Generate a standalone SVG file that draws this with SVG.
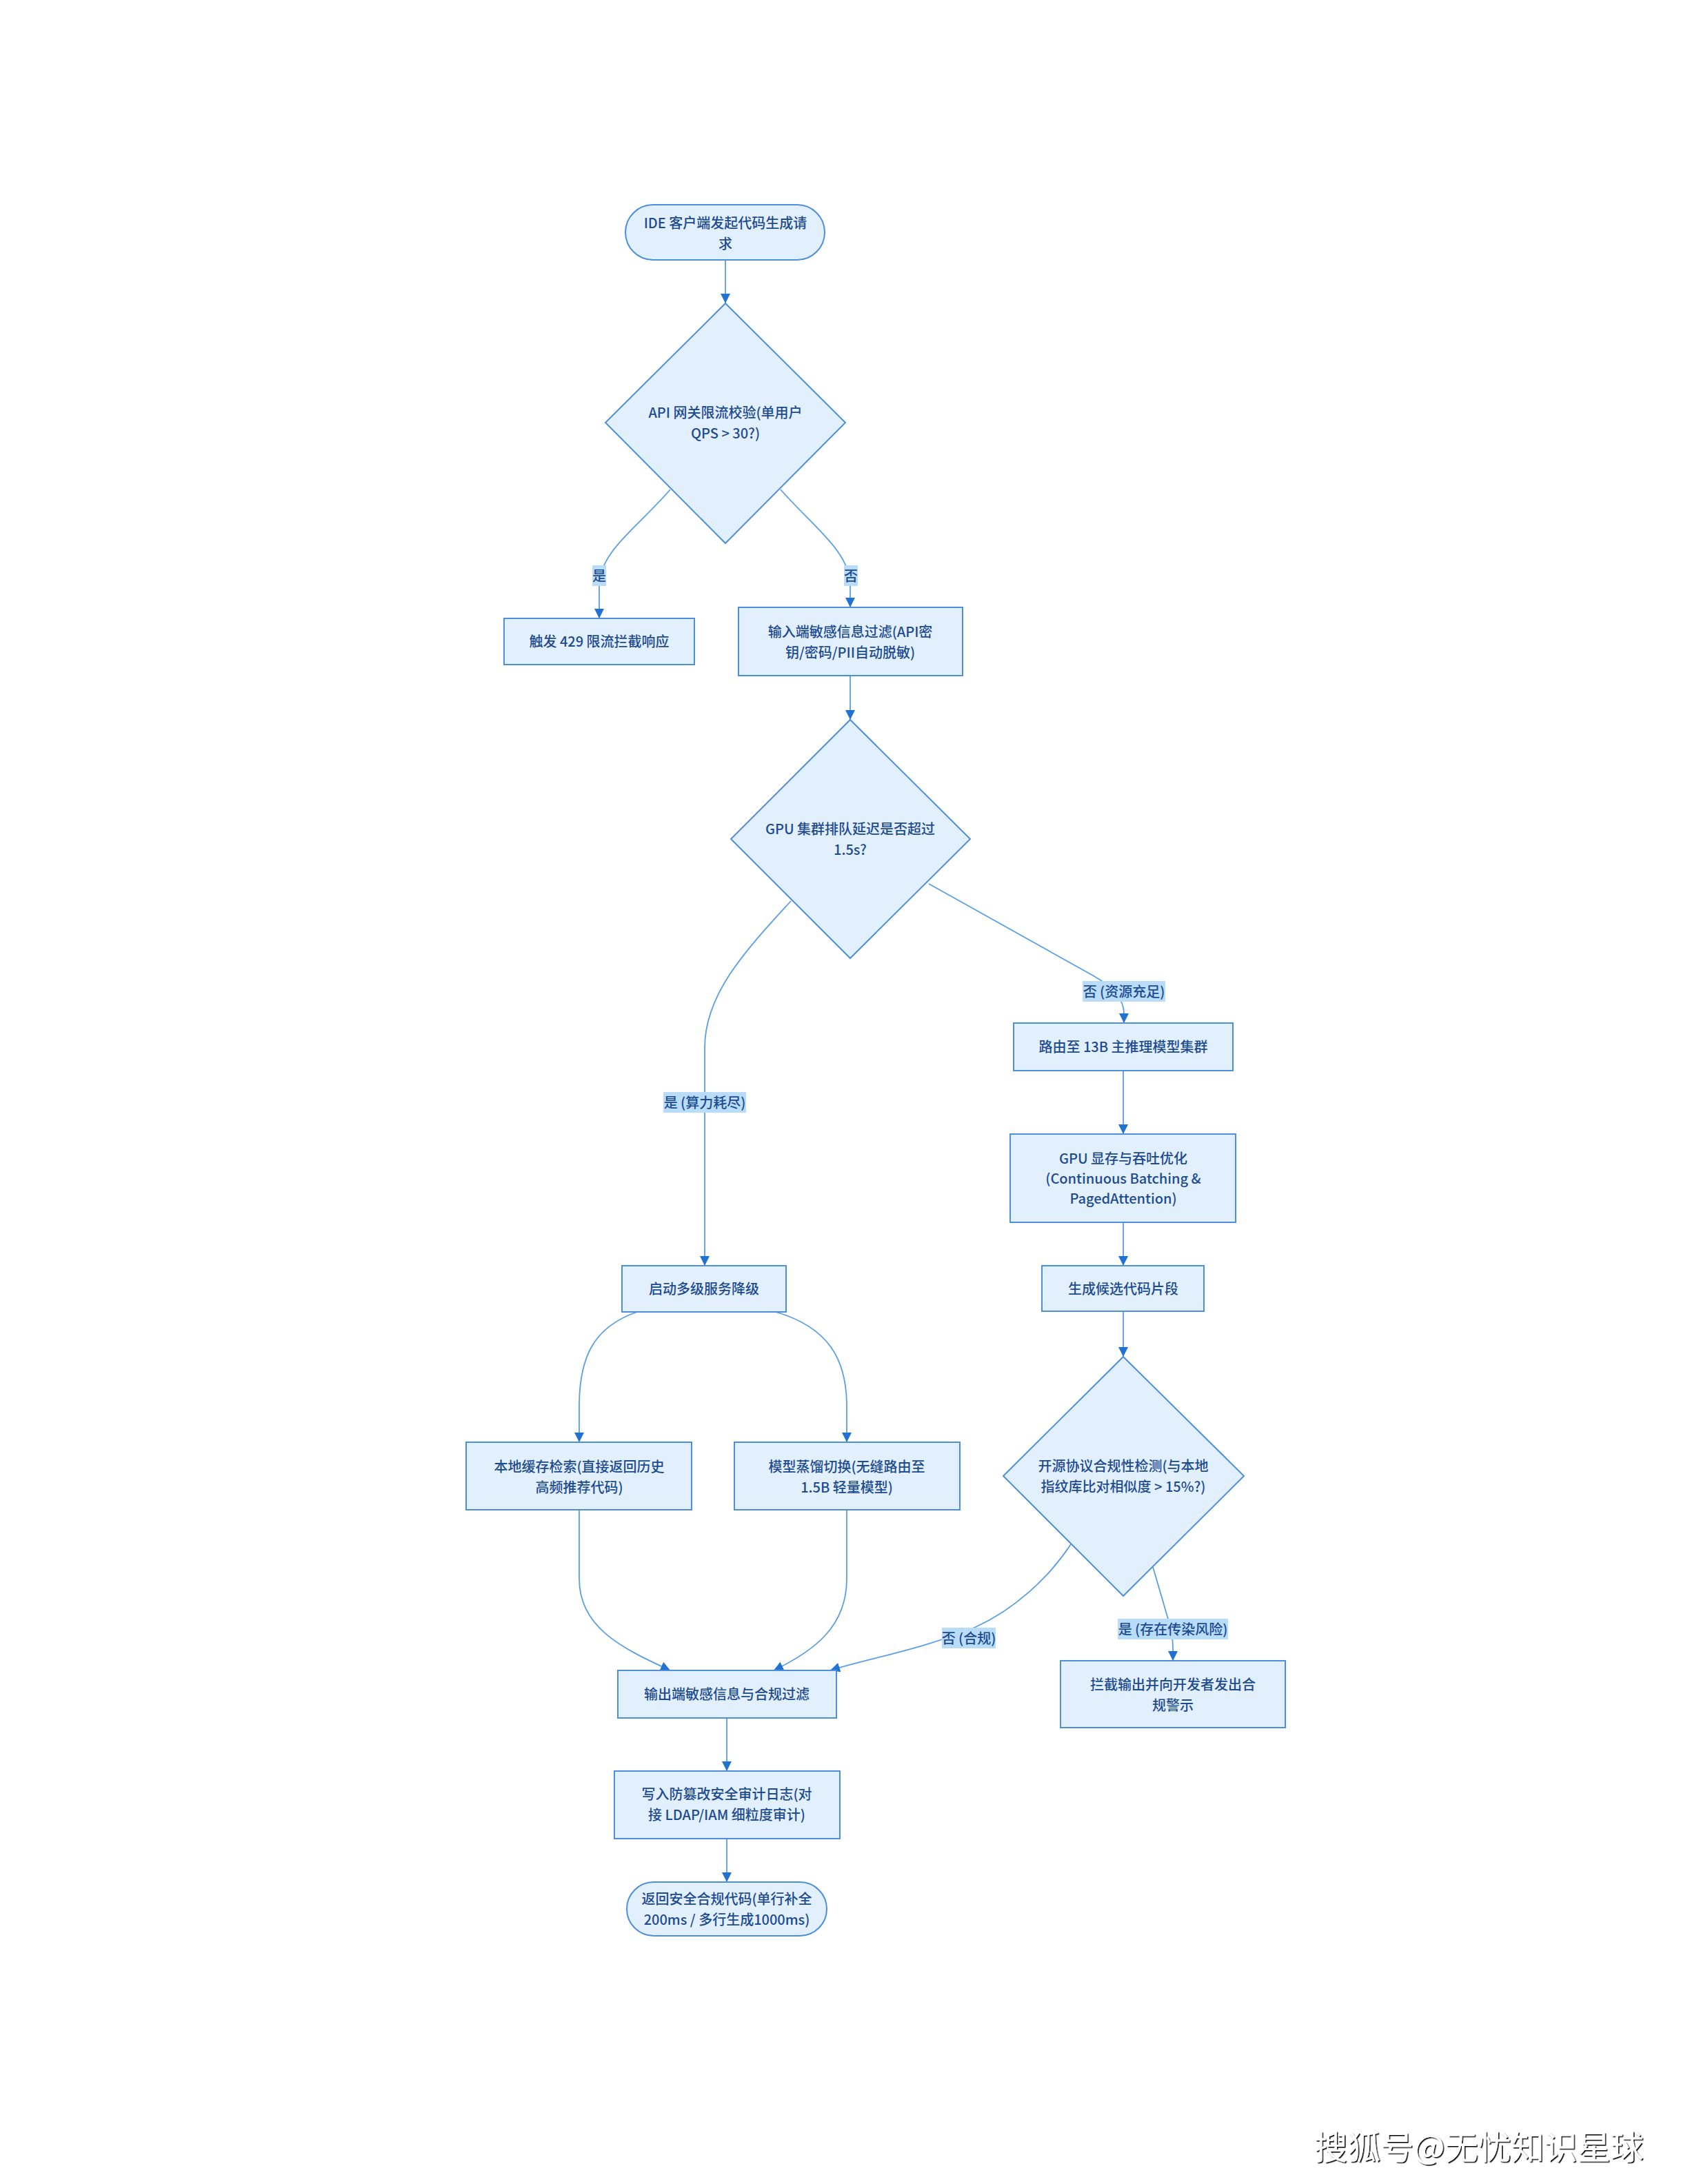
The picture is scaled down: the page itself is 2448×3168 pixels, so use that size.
<svg xmlns="http://www.w3.org/2000/svg" width="2448" height="3168" viewBox="0 0 2448 3168">
<style>
.n{fill:#e2effc;stroke:#4d8fdb;stroke-width:2}
.t{font-family:"Noto Sans CJK SC","Noto Sans",sans-serif;font-size:20px;font-weight:500;fill:#1d4b90;text-anchor:middle;dominant-baseline:central}
.e{fill:none;stroke:#5a9ee6;stroke-width:1.8}
.lb{fill:#b9dcf9}
.lt{font-family:"Noto Sans CJK SC","Noto Sans",sans-serif;font-size:20px;font-weight:500;fill:#1d4b90;text-anchor:middle;dominant-baseline:central}
.wm{font-family:"Noto Sans CJK SC",sans-serif;font-size:48px;fill:#ffffff;filter:url(#sh)}
</style>
<defs>
<marker id="ar" markerUnits="userSpaceOnUse" markerWidth="14" markerHeight="14" viewBox="0 0 12 12" refX="12" refY="6" orient="auto">
<path d="M0,0 L12,6 L0,12 z" fill="#2272d4"/>
</marker>
<filter id="sh" x="-5%" y="-20%" width="110%" height="140%">
<feDropShadow dx="1.5" dy="1.5" stdDeviation="0.3" flood-color="#000000" flood-opacity="1"/>
</filter>
</defs>
<rect width="2448" height="3168" fill="#ffffff"/>

<g id="edges">
<path class="e" marker-end="url(#ar)" d="M1052,377 L1052,440"/>
<path class="e" marker-end="url(#ar)" d="M972,710 C925,765 869,800 869,850 L869,897"/>
<path class="e" marker-end="url(#ar)" d="M1132,710 C1180,765 1233,800 1233,850 L1233,881"/>
<path class="e" marker-end="url(#ar)" d="M1233,980 L1233,1044"/>
<path class="e" marker-end="url(#ar)" d="M1147,1307 C1085,1375 1022,1440 1022,1520 L1022,1836"/>
<path class="e" marker-end="url(#ar)" d="M1347,1282 L1585,1415 C1615,1432 1630,1450 1630,1470 L1630,1484"/>
<path class="e" marker-end="url(#ar)" d="M1629,1553 L1629,1645"/>
<path class="e" marker-end="url(#ar)" d="M1629,1773 L1629,1836"/>
<path class="e" marker-end="url(#ar)" d="M1629,1902 L1629,1968"/>
<path class="e" marker-end="url(#ar)" d="M924,1903 C860,1925 840,1970 840,2040 L840,2092"/>
<path class="e" marker-end="url(#ar)" d="M1125,1903 C1200,1925 1228,1970 1228,2040 L1228,2092"/>
<path class="e" marker-end="url(#ar)" d="M1553,2240 C1520,2290 1470,2335 1415,2360 C1330,2395 1260,2405 1204,2423"/>
<path class="e" marker-end="url(#ar)" d="M1672,2273 L1693,2345 C1698,2360 1701,2372 1701,2390 L1701,2409"/>
<path class="e" marker-end="url(#ar)" d="M840,2190 L840,2290 C840,2360 900,2390 972,2423"/>
<path class="e" marker-end="url(#ar)" d="M1228,2190 L1228,2290 C1228,2360 1180,2395 1122,2423"/>
<path class="e" marker-end="url(#ar)" d="M1054,2492 L1054,2569"/>
<path class="e" marker-end="url(#ar)" d="M1054,2667 L1054,2730"/>
</g>

<g id="edge-labels">
<rect class="lb" x="859" y="820" width="20" height="30"/>
<text class="lt" x="869" y="834">是</text>
<rect class="lb" x="1224" y="820" width="20" height="30"/>
<text class="lt" x="1234" y="834">否</text>
<rect class="lb" x="962" y="1584" width="120" height="30"/>
<text class="lt" x="1022" y="1598">是 (算力耗尽)</text>
<rect class="lb" x="1570" y="1423" width="120" height="30"/>
<text class="lt" x="1630" y="1437">否 (资源充足)</text>
<rect class="lb" x="1366" y="2361" width="78" height="30"/>
<text class="lt" x="1405" y="2375">否 (合规)</text>
<rect class="lb" x="1621" y="2348" width="160" height="30"/>
<text class="lt" x="1701" y="2362">是 (存在传染风险)</text>
</g>

<g id="start">
<rect class="n" x="907" y="297" width="289" height="80" rx="40"/>
<text class="t" x="1052" y="322">IDE 客户端发起代码生成请</text>
<text class="t" x="1052" y="352">求</text>
</g>
<g id="d1">
<polygon class="n" points="1052,440 1226,613 1052,788 878,613"/>
<text class="t" x="1052" y="597">API 网关限流校验(单用户</text>
<text class="t" x="1052" y="627">QPS &gt; 30?)</text>
</g>
<g id="b429">
<rect class="n" x="731" y="897" width="276" height="67"/>
<text class="t" x="869" y="929">触发 429 限流拦截响应</text>
</g>
<g id="bInput">
<rect class="n" x="1071" y="881" width="325" height="99"/>
<text class="t" x="1233" y="915">输入端敏感信息过滤(API密</text>
<text class="t" x="1233" y="945">钥/密码/PII自动脱敏)</text>
</g>
<g id="d2">
<polygon class="n" points="1233,1044 1407,1217 1233,1390 1060,1217"/>
<text class="t" x="1233" y="1201">GPU 集群排队延迟是否超过</text>
<text class="t" x="1233" y="1231">1.5s?</text>
</g>
<g id="bRoute">
<rect class="n" x="1470" y="1484" width="318" height="69"/>
<text class="t" x="1629" y="1517">路由至 13B 主推理模型集群</text>
</g>
<g id="bGpu">
<rect class="n" x="1465" y="1645" width="327" height="128"/>
<text class="t" x="1629" y="1679">GPU 显存与吞吐优化</text>
<text class="t" x="1629" y="1708">(Continuous Batching &amp;</text>
<text class="t" x="1629" y="1737">PagedAttention)</text>
</g>
<g id="bGen">
<rect class="n" x="1511" y="1836" width="235" height="66"/>
<text class="t" x="1629" y="1868">生成候选代码片段</text>
</g>
<g id="d3">
<polygon class="n" points="1629,1968 1804,2141 1629,2315 1455,2141"/>
<text class="t" x="1629" y="2125">开源协议合规性检测(与本地</text>
<text class="t" x="1629" y="2155">指纹库比对相似度 &gt; 15%?)</text>
</g>
<g id="bDegrade">
<rect class="n" x="902" y="1836" width="238" height="67"/>
<text class="t" x="1021" y="1868">启动多级服务降级</text>
</g>
<g id="bCache">
<rect class="n" x="676" y="2092" width="327" height="98"/>
<text class="t" x="840" y="2126">本地缓存检索(直接返回历史</text>
<text class="t" x="840" y="2156">高频推荐代码)</text>
</g>
<g id="bDistill">
<rect class="n" x="1065" y="2092" width="327" height="98"/>
<text class="t" x="1228" y="2126">模型蒸馏切换(无缝路由至</text>
<text class="t" x="1228" y="2156">1.5B 轻量模型)</text>
</g>
<g id="bBlock">
<rect class="n" x="1538" y="2409" width="326" height="97"/>
<text class="t" x="1701" y="2442">拦截输出并向开发者发出合</text>
<text class="t" x="1701" y="2472">规警示</text>
</g>
<g id="bOut">
<rect class="n" x="896" y="2423" width="317" height="69"/>
<text class="t" x="1054" y="2456">输出端敏感信息与合规过滤</text>
</g>
<g id="bAudit">
<rect class="n" x="891" y="2569" width="327" height="98"/>
<text class="t" x="1054" y="2601">写入防篡改安全审计日志(对</text>
<text class="t" x="1054" y="2631">接 LDAP/IAM 细粒度审计)</text>
</g>
<g id="end">
<rect class="n" x="909" y="2730" width="290" height="78" rx="39"/>
<text class="t" x="1054" y="2753">返回安全合规代码(单行补全</text>
<text class="t" x="1054" y="2783">200ms / 多行生成1000ms)</text>
</g>

<text class="wm" x="1906" y="3132">搜狐号@无忧知识星球</text>
</svg>
